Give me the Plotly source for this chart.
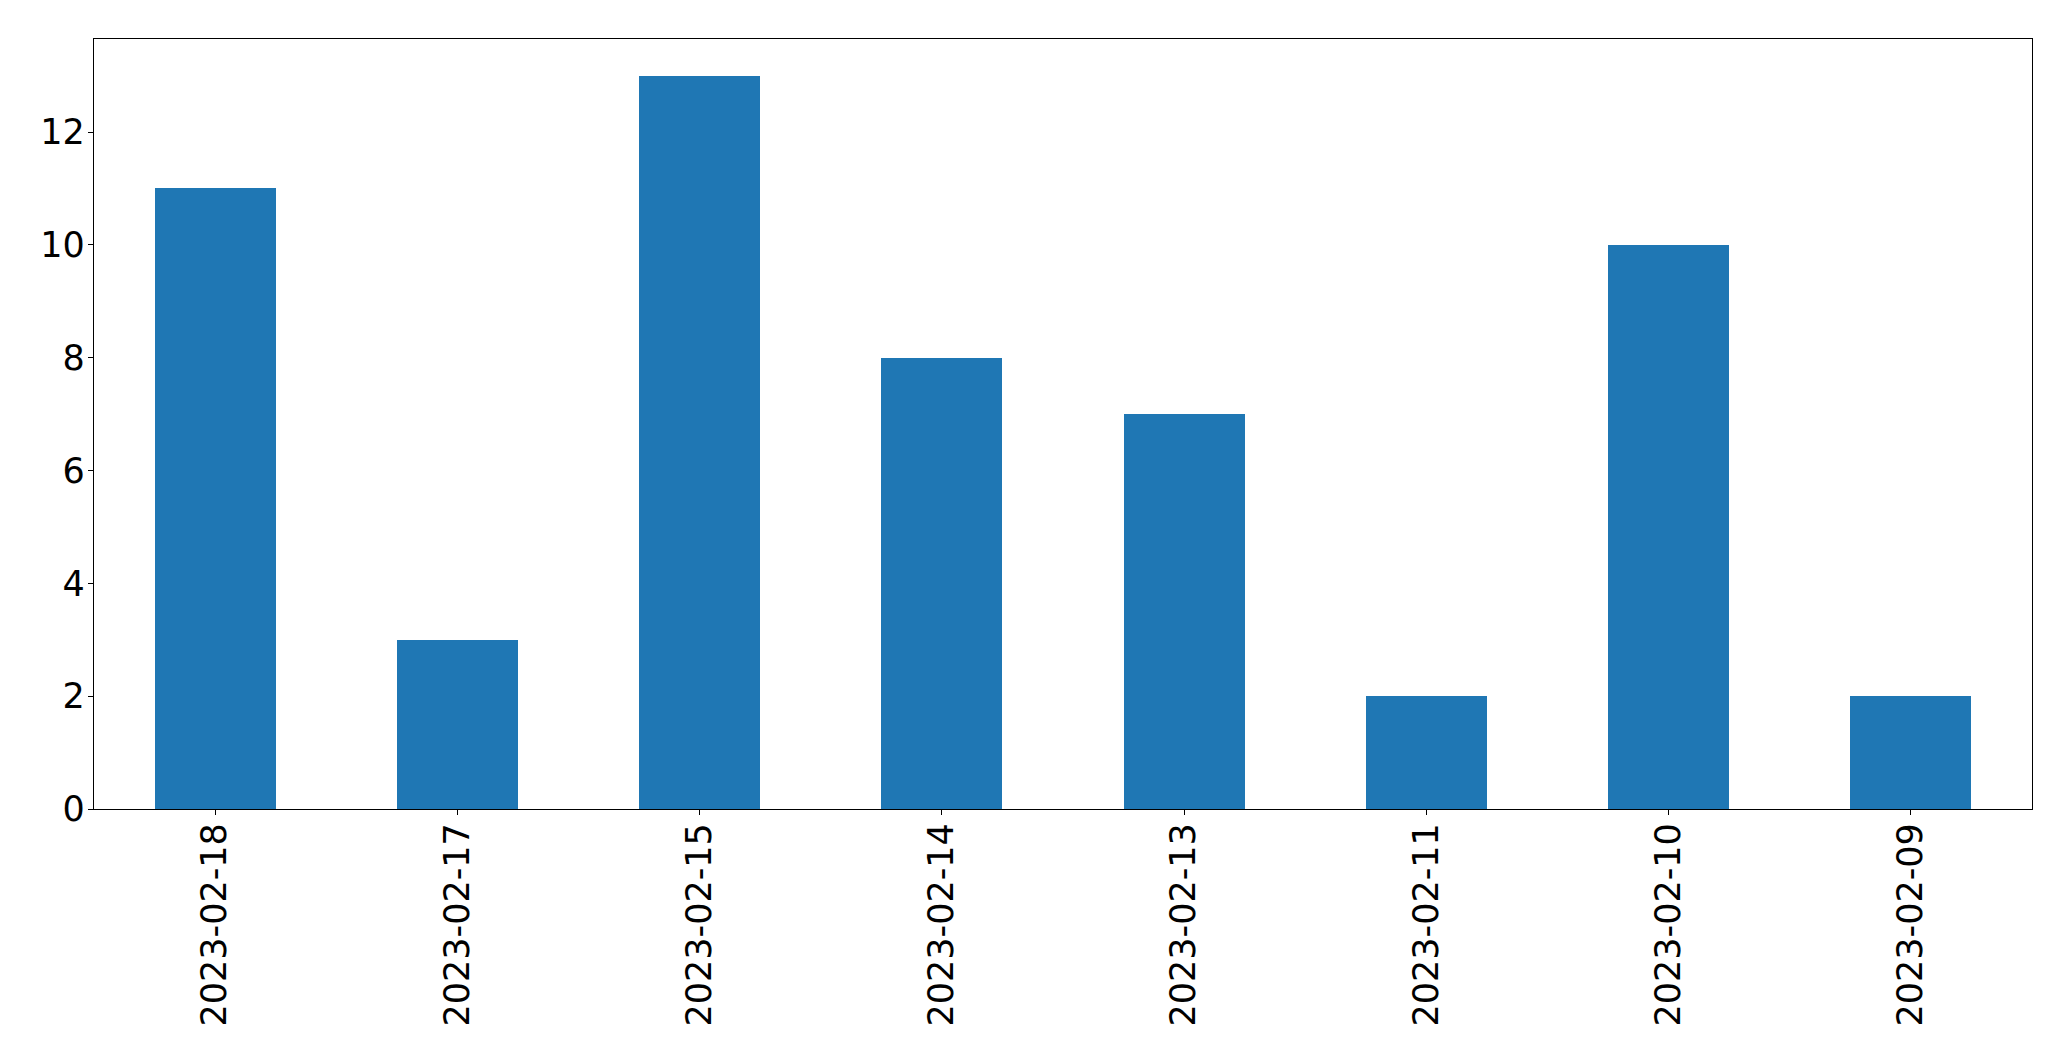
import plotly.graph_objects as go

dates = ["2023-02-18", "2023-02-17", "2023-02-15", "2023-02-14",
         "2023-02-13", "2023-02-11", "2023-02-10", "2023-02-09"]
counts = [11, 3, 13, 8, 7, 2, 10, 2]
y_ticks = [0, 2, 4, 6, 8, 10, 12]

fig = go.Figure()
fig.add_trace(go.Bar(x=dates, y=counts, width=0.5, marker_color="#1f77b4",
                     marker_line_width=0))

axis_common = dict(showline=True, linecolor="black", linewidth=1.3, mirror=True,
                   ticks="outside", ticklen=5, tickwidth=1.3, tickcolor="black",
                   showgrid=False, zeroline=False)
fig.update_xaxes(type="category", range=[-0.5, 7.5], tickangle=-90,
                 ticklabelstandoff=-6, **axis_common)
fig.update_yaxes(range=[0, 13.65], tickvals=y_ticks, ticklabelstandoff=-4, **axis_common)

fig.update_layout(
    width=2071, height=1061,
    margin=dict(l=86, r=47, t=31, b=260),
    plot_bgcolor="white", paper_bgcolor="white",
    font=dict(family="DejaVu Sans", size=35, color="black"),
    showlegend=False, bargap=0,
)
fig.write_html("out.html")
